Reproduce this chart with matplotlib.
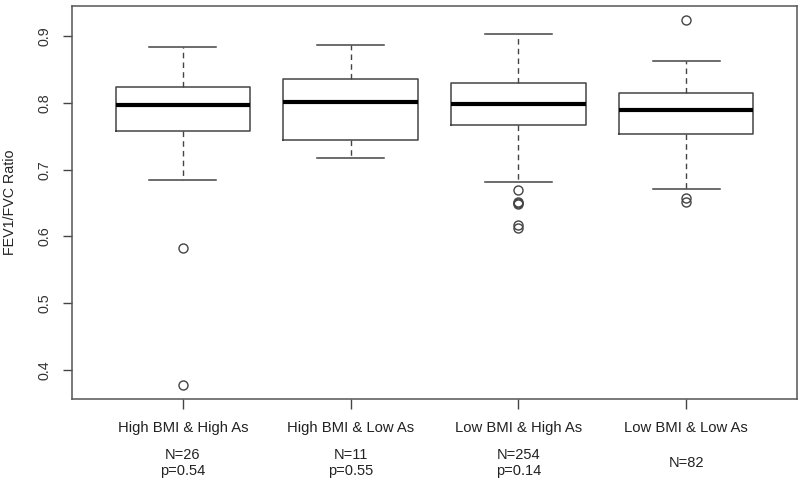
import numpy as np
import matplotlib
matplotlib.use("Agg")
import matplotlib.pyplot as plt

plt.rcParams["font.family"] = ["Liberation Sans", "DejaVu Sans"]

GROUPS = ["High BMI & High As", "High BMI & Low As", "Low BMI & High As", "Low BMI & Low As"]
N_LABELS = ["N=26", "N=11", "N=254", "N=82"]
P_LABELS = ["p=0.54", "p=0.55", "p=0.14", None]

# five-number summaries
WHISK_LO = [0.685, 0.718, 0.681, 0.671]
Q1 = [0.758, 0.745, 0.767, 0.753]
MEDIAN = [0.797, 0.801, 0.798, 0.790]
Q3 = [0.823, 0.835, 0.829, 0.814]
WHISK_HI = [0.883, 0.887, 0.903, 0.863]
OUTLIERS = [
    [0.582, 0.378],
    [],
    [0.670, 0.651, 0.650, 0.649, 0.617, 0.612],
    [0.924, 0.657, 0.652],
]

EDGE = "#444444"
TEXT = "#222222"

stats = []
for i, name in enumerate(GROUPS):
    stats.append({
        "label": name,
        "whislo": WHISK_LO[i], "q1": Q1[i], "med": MEDIAN[i],
        "q3": Q3[i], "whishi": WHISK_HI[i], "fliers": OUTLIERS[i],
    })

fig = plt.figure(figsize=(8.0, 4.84), dpi=100)
ax = fig.add_axes([0.09, 0.1756, 0.9062, 0.812])

ax.bxp(
    stats, positions=[1, 2, 3, 4], widths=0.8, showfliers=True,
    boxprops=dict(color=EDGE, linewidth=1.1),
    medianprops=dict(color="black", linewidth=3.0, solid_capstyle="butt"),
    whiskerprops=dict(color=EDGE, linewidth=1.0, linestyle=(0, (4, 3))),
    capprops=dict(color=EDGE, linewidth=1.1),
    capwidths=0.4,
    flierprops=dict(marker="o", markerfacecolor="none", markeredgecolor=EDGE,
                    markersize=6.5, markeredgewidth=1.0),
)

ax.set_xlim(0.34, 4.66)
ax.set_ylim(0.3566, 0.945)
ax.set_yticks([0.4, 0.5, 0.6, 0.7, 0.8, 0.9])
ax.set_yticklabels(["0.4", "0.5", "0.6", "0.7", "0.8", "0.9"], rotation=90, va="center")
ax.set_xticks([1, 2, 3, 4])
ax.set_xticklabels(GROUPS)
ax.tick_params(axis="x", direction="out", length=7, width=1, color=EDGE, pad=9,
               labelsize=10.7, labelcolor=TEXT)
ax.tick_params(axis="y", direction="out", length=6.5, width=1, color=EDGE, pad=8,
               labelsize=10.3, labelcolor="#333333")
for sp in ax.spines.values():
    sp.set_color("#555555")
    sp.set_linewidth(1.1)

ax.set_ylabel("FEV1/FVC Ratio", fontsize=10.3, color=TEXT, va="center")
ax.yaxis.set_label_coords(-0.085, 0.5)

for i in range(4):
    if P_LABELS[i] is None:
        ax.text(i + 1, -0.163, N_LABELS[i], transform=ax.get_xaxis_transform(),
                ha="center", va="center", fontsize=10.5, color=TEXT)
    else:
        ax.text(i + 1, -0.143, N_LABELS[i], transform=ax.get_xaxis_transform(),
                ha="center", va="center", fontsize=10.5, color=TEXT)
        ax.text(i + 1, -0.183, P_LABELS[i], transform=ax.get_xaxis_transform(),
                ha="center", va="center", fontsize=10.5, color=TEXT)

fig.savefig("out.png", dpi=100, facecolor="white")
